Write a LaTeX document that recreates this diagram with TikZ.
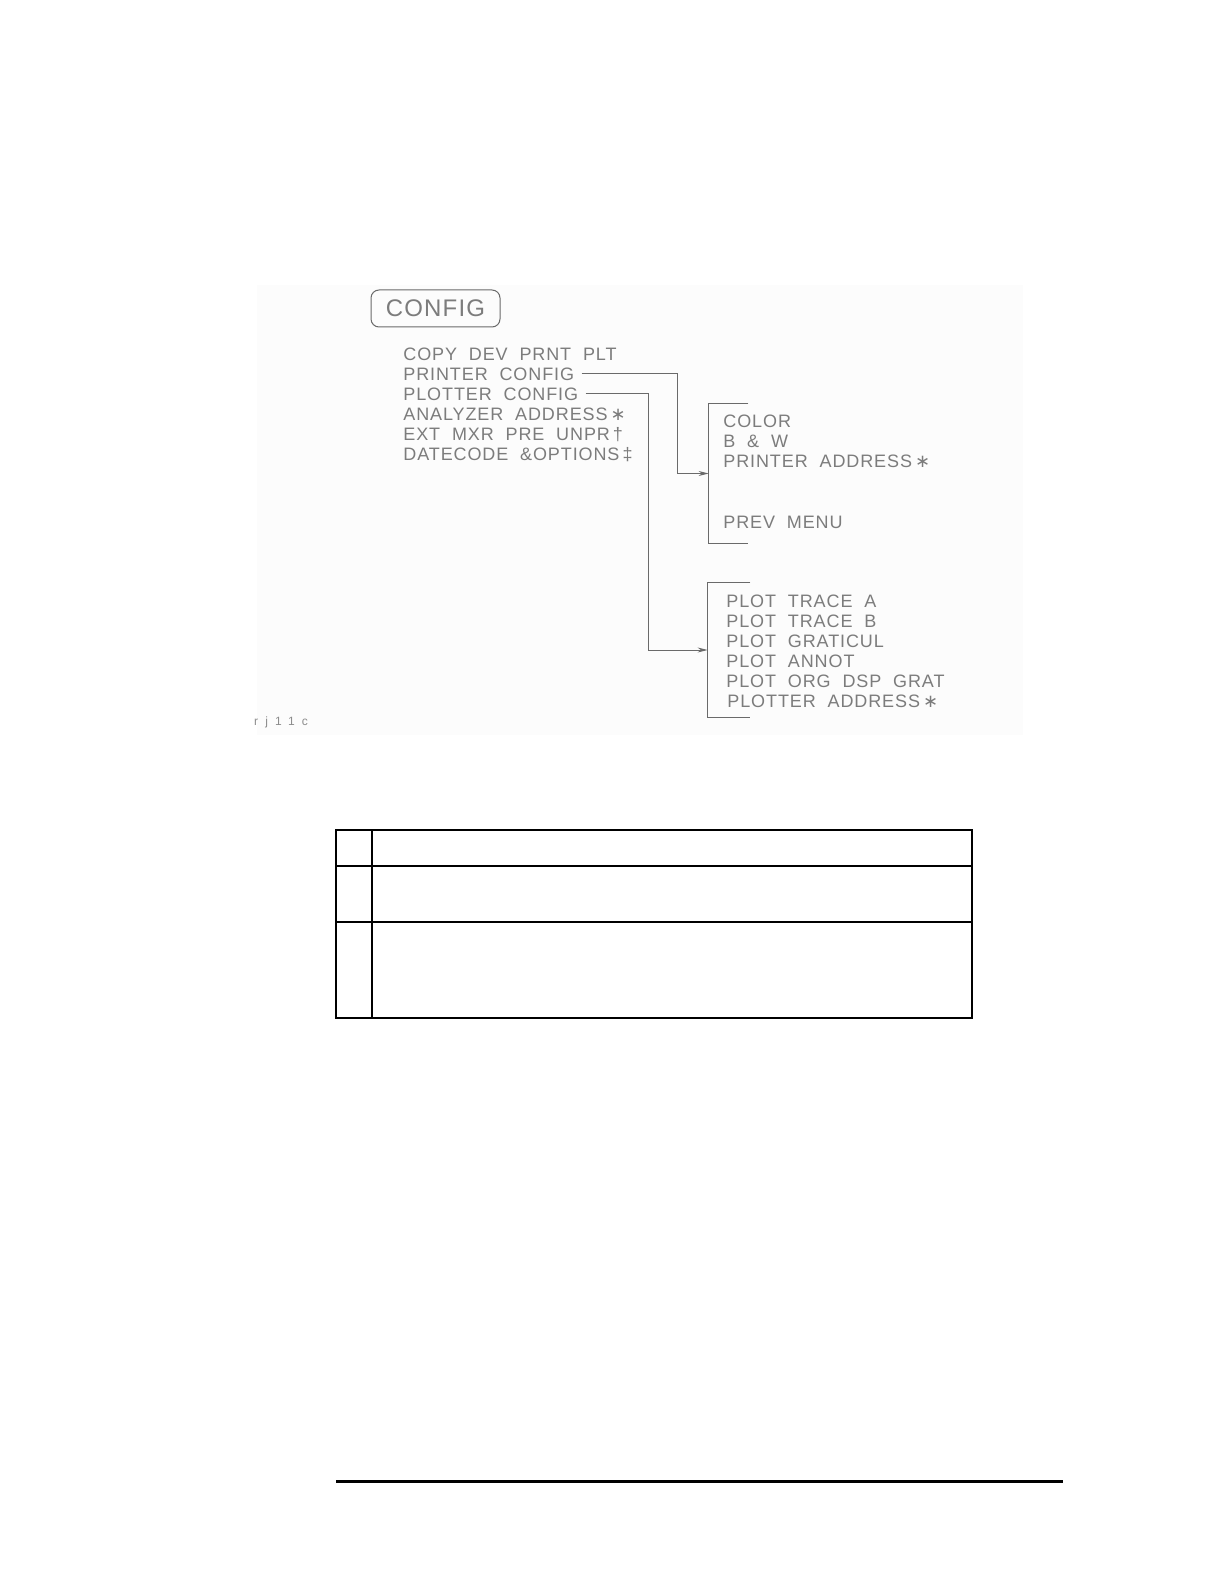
\documentclass[tikz,border=0pt]{standalone}
\usepackage{fontspec}
\setmainfont{Liberation Sans}[LetterSpace=5, WordSpace=2]
\newfontfamily\starfont{DejaVu Sans}
\usepackage{tikz}
\usetikzlibrary{positioning, arrows.meta, shapes}
\definecolor{menugray}{HTML}{7C7C7C}
\definecolor{wiregray}{HTML}{6A6A6A}
\tikzstyle{keybox} = [rectangle, draw=wiregray, line width=0.5pt, rounded corners=4pt,
minimum width=64.5pt, minimum height=18.5pt, text=menugray, font=\fontsize{12}{12}\selectfont]
\tikzstyle{menuitem} = [anchor=west, inner xsep=0pt, inner ysep=0pt, text height=6.5pt,
text depth=0pt, text=menugray, font=\fontsize{9}{10}\selectfont]
\tikzstyle{menubox} = [rectangle, inner sep=0pt]
\tikzstyle{bracket} = [draw=wiregray, line width=0.5pt]
\tikzstyle{link} = [draw=wiregray, line width=0.5pt, shorten <=3.5pt, -{Stealth[length=5pt,width=2.5pt]}]
\tikzstyle{rule} = [draw=black, line width=1pt]
\newcommand{\astk}{\,{\starfont ∗}}

\begin{document}
\begin{tikzpicture}[x=0.5pt, y=-0.5pt]
    \useasboundingbox (0,0) rectangle (1224,1582);
    \fill [black!1] (257,285) rectangle (1023,735);
    \node (config) [keybox] at (435.5,308.5) {CONFIG};
    % config menu
    \node (copydev) [menuitem] at (403,354) {COPY DEV PRNT PLT};
    \node (prncfg) [menuitem] at (403,374) {PRINTER CONFIG};
    \node (pltcfg) [menuitem] at (403,394) {PLOTTER CONFIG};
    \node (anaddr) [menuitem] at (403,414) {ANALYZER ADDRESS\astk};
    \node (extmxr) [menuitem] at (403,434) {EXT MXR PRE UNPR\,†};
    \node (datecode) [menuitem] at (403,454) {DATECODE \&OPTIONS\,‡};
    % printer config menu
    \node (prnmenu) [menubox, minimum width=19.5pt, minimum height=69.5pt] at (728.5,473.5) {};
    \node (color) [menuitem] at (723,421) {COLOR};
    \node (bw) [menuitem] at (723,441) {B \& W};
    \node (prnaddr) [menuitem] at (723,461) {PRINTER ADDRESS\astk};
    \node (prevmenu) [menuitem] at (723,522) {PREV MENU};
    % plotter config menu
    \node (pltmenu) [menubox, minimum width=21pt, minimum height=67pt] at (729,650) {};
    \node (tracea) [menuitem] at (726,601) {PLOT TRACE A};
    \node (traceb) [menuitem] at (726,621) {PLOT TRACE B};
    \node (grat) [menuitem] at (726,641) {PLOT GRATICUL};
    \node (annot) [menuitem] at (726,661) {PLOT ANNOT};
    \node (orgdsp) [menuitem] at (726,681) {PLOT ORG DSP GRAT};
    \node (pltaddr) [menuitem] at (727,701) {PLOTTER ADDRESS\astk};
    \node (figid) [anchor=west, text=black!45, font=\fontsize{6}{6}\selectfont\addfontfeatures{LetterSpace=60}] at (247,722) {rj11c};

    \coordinate (prnbend) at (677,0);
    \coordinate (pltbend) at (648,0);
    \draw [bracket] (prnmenu.north east) -- (prnmenu.north west) -- (prnmenu.south west) -- (prnmenu.south east);
    \draw [bracket] (pltmenu.north east) -- (pltmenu.north west) -- (pltmenu.south west) -- (pltmenu.south east);
    \draw [link] (prncfg.east) -- (prncfg.east -| prnbend) |- (prnmenu.west);
    \draw [link] (pltcfg.east) -- (pltcfg.east -| pltbend) |- (pltmenu.west);

    % empty table
    \draw [rule] (336,830) rectangle (972,1018);
    \draw [rule] (336,866) -- (972,866);
    \draw [rule] (336,922) -- (972,922);
    \draw [rule] (372,830) -- (372,1018);
    \draw [rule, line width=1.5pt] (336,1481) -- (1063,1481);
\end{tikzpicture}
\end{document}
